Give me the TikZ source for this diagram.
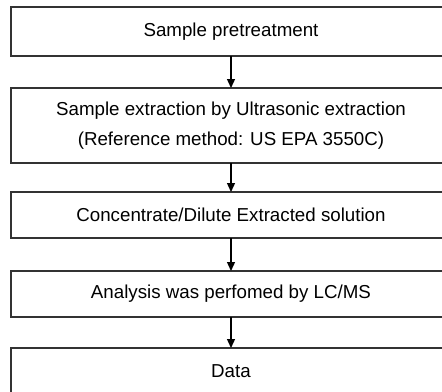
\documentclass[tikz,border=0pt]{standalone}
\usepackage{fontspec}
\setmainfont{Liberation Sans}
\usetikzlibrary{arrows.meta,positioning}

\begin{document}
\begin{tikzpicture}[
  font=\fontsize{18.8}{30}\selectfont,
  stepbox/.style={draw=black!80, line width=1.3bp, minimum width=440bp, minimum height=46bp, inner sep=0pt, outer sep=0pt, align=center},
  >={Triangle[length=9bp,width=8bp]},
  node distance=31bp,
]
\clip (0,0) rectangle (442bp,-392bp);
\node[stepbox, minimum height=49bp, anchor=north west] (pre) at (11bp,-7bp) {Sample pretreatment};
\node[stepbox, minimum height=75bp, below=32bp of pre] (extr) {Sample extraction by Ultrasonic extraction\\(Reference method: US EPA 3550C)};
\node[stepbox, below=29bp of extr] (conc) {Concentrate/Dilute Extracted solution};
\node[stepbox, below=33bp of conc] (lcms) {Analysis was perfomed by LC/MS};
\node[stepbox, below=31bp of lcms] (data) {Data};
\draw[->, line width=1.3bp] (pre) -- (extr);
\draw[->, line width=1.3bp] (extr) -- (conc);
\draw[->, line width=1.3bp] (conc) -- (lcms);
\draw[->, line width=1.3bp] (lcms) -- (data);
\end{tikzpicture}
\end{document}
